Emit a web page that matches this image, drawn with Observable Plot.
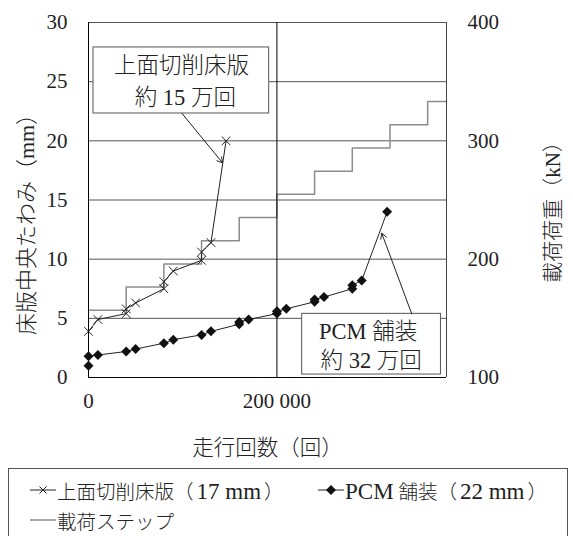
<!DOCTYPE html>
<html>
<head>
<meta charset="utf-8">
<script src="https://cdn.jsdelivr.net/npm/d3@7"></script>
<script src="https://cdn.jsdelivr.net/npm/@observablehq/plot@0.6"></script>
<style>
  html, body { margin: 0; padding: 0; background: #fff; }
  body { width: 573px; height: 536px; overflow: hidden; font-family: "Liberation Serif", "Noto Sans CJK JP", serif; color: #222; }
  #chart svg { display: block; }
  #chart svg text { font-weight: 300; }
  #legend { position: relative; margin-left: 8px; margin-top: 3px; width: 560px; height: 90px; border: 1px solid #555; box-sizing: border-box; }
  .item { position: absolute; height: 30px; display: flex; align-items: center; white-space: nowrap; font-size: 19.5px; font-weight: 300; }
  .lat { font-family: "Liberation Serif", serif; font-size: 23px; font-weight: 400; }
  .lat.pad { margin: 0 3px; }
  .item svg { display: block; }
</style>
</head>
<body>
<div id="chart"></div>
<div id="legend"></div>
<script>
// ---- data ----
const cutCycles = [0, 10000, 40000, 40000, 50000, 80000, 80000, 90000, 120000, 120000, 130000, 146000];
const cutDefl   = [3.9, 4.9, 5.4, 5.8, 6.3, 7.5, 8.1, 9.0, 9.9, 10.6, 11.4, 20.0];

const pcmCycles = [0, 0, 10000, 40000, 50000, 80000, 90000, 120000, 130000, 160000, 160000, 170000,
                   200000, 200000, 210000, 240000, 240000, 250000, 280000, 280000, 290000, 317000];
const pcmDefl   = [1.0, 1.8, 1.9, 2.2, 2.4, 2.9, 3.2, 3.6, 3.9, 4.5, 4.7, 4.9,
                   5.4, 5.6, 5.8, 6.4, 6.6, 6.8, 7.5, 7.8, 8.2, 14.0];

const stepCycles = [0, 40000, 80000, 120000, 160000, 200000, 240000, 280000, 320000, 360000, 380000];
const stepLoad   = [156.8, 176.4, 196.0, 215.6, 235.2, 254.8, 274.4, 294.0, 313.6, 333.2, 333.2];

const yTicks = [0, 5, 10, 15, 20, 25, 30];
const loadTicks = [100, 200, 300, 400];
const xTicks = [0, 200000];

const seriesNames = ["上面切削床版（17 mm）", "PCM 舗装（22 mm）", "載荷ステップ"];
const yLabel = "床版中央たわみ（mm）";
const y2Label = "載荷荷重（kN）";
const xLabel = "走行回数（回）";

// callout annotations (data units)
const boxNames = ["cut", "pcm"];
const boxX1 = [5300, 226800];
const boxX2 = [191800, 374100];
const boxY1 = [22.31, 0.25];
const boxY2 = [27.89, 5.38];
const calloutText = ["上面切削床版", "約 15 万回", "PCM 舗装", "約 32 万回"];
const calloutX = [98600, 102800, 296800, 300000];
const calloutY = [26.37, 23.66, 3.83, 1.44];
const arrowX1 = [99300, 343100];
const arrowY1 = [22.31, 5.38];
const arrowX2 = [142300, 311300];
const arrowY2 = [18.14, 12.19];

// ---- build tables ----
const loadToMm = (kN) => (kN - 100) / 10;   // right axis 100–400 kN ↔ left axis 0–30 mm
const cut = cutCycles.map((c, i) => ({c, d: cutDefl[i]}));
const pcm = pcmCycles.map((c, i) => ({c, d: pcmDefl[i]}));
const steps = stepCycles.map((c, i) => ({c, d: loadToMm(stepLoad[i])}));
const boxes = boxNames.map((n, i) => ({x1: boxX1[i], x2: boxX2[i], y1: boxY1[i], y2: boxY2[i]}));
const callouts = calloutText.map((t, i) => ({t, x: calloutX[i], y: calloutY[i]}));
const arrows = arrowX1.map((x1, i) => ({x1, y1: arrowY1[i], x2: arrowX2[i], y2: arrowY2[i]}));

const FONT = '"Liberation Serif", "Noto Sans CJK JP", serif';

const chart = Plot.plot({
  width: 573,
  height: 465,
  marginLeft: 88,
  marginRight: 127,
  marginTop: 22,
  marginBottom: 88,
  style: {fontFamily: FONT, fontSize: "21px", color: "#222", background: "#fff"},
  x: {domain: [0, 380000]},
  y: {domain: [0, 30]},
  marks: [
    Plot.ruleY(yTicks.slice(1), {stroke: "#555", strokeWidth: 1}),
    Plot.line(steps, {x: "c", y: "d", curve: "step-after", stroke: "#8c8c8c", strokeWidth: 1.5}),
    Plot.ruleX([200000], {stroke: "#000", strokeWidth: 1}),
    Plot.ruleX([380000], {stroke: "#444", strokeWidth: 1}),
    Plot.ruleX([0], {stroke: "#000", strokeWidth: 1}),
    Plot.ruleY([0], {stroke: "#000", strokeWidth: 1}),
    Plot.line(cut, {x: "c", y: "d", stroke: "#222", strokeWidth: 1}),
    Plot.dot(cut, {x: "c", y: "d", symbol: "times", r: 4, stroke: "#222", strokeWidth: 1}),
    Plot.line(pcm, {x: "c", y: "d", stroke: "#222", strokeWidth: 1}),
    Plot.dot(pcm, {x: "c", y: "d", symbol: "diamond2", r: 4.5, fill: "#111", stroke: "none"}),
    Plot.rect(boxes, {x1: "x1", x2: "x2", y1: "y1", y2: "y2", fill: "#fff", stroke: "#555", strokeWidth: 1}),
    Plot.text(callouts, {x: "x", y: "y", text: "t", fontSize: 22.5, fill: "#222", fontFamily: FONT}),
    Plot.arrow(arrows, {x1: "x1", y1: "y1", x2: "x2", y2: "y2", stroke: "#222", strokeWidth: 1, headLength: 9}),
    Plot.axisY(yTicks, {tickSize: 0, tickPadding: 21, label: null, fontSize: 21, fill: "#222", fontFamily: "Liberation Serif"}),
    Plot.axisY(loadTicks.map(loadToMm), {anchor: "right", tickFormat: (d) => String(100 + d * 10), tickSize: 0, tickPadding: 21, label: null, fontSize: 21, fill: "#222", fontFamily: "Liberation Serif"}),
    Plot.axisX(xTicks, {tickFormat: (d) => d3.format(",")(d).replace(/,/g, " "), tickSize: 0, tickPadding: 16, label: null, fontSize: 21, fill: "#222", fontFamily: "Liberation Serif"}),
    Plot.text([xLabel], {frameAnchor: "bottom", dy: 71, lineAnchor: "middle", fontSize: 21.5, fill: "#222", fontFamily: FONT}),
    Plot.text([yLabel], {frameAnchor: "left", textAnchor: "middle", lineAnchor: "middle", dx: -62, dy: 19, rotate: -90, fontSize: 22, fill: "#222", fontFamily: FONT}),
    Plot.text([y2Label], {frameAnchor: "right", textAnchor: "middle", lineAnchor: "middle", dx: 107, dy: 7, rotate: -90, fontSize: 21, fill: "#222", fontFamily: FONT})
  ]
});
document.getElementById("chart").appendChild(chart);

// ---- legend ----
function splitLatin(s) {
  return s
    .replace(/（([^）]*)）/g, '（<span class="lat pad">$1</span>）')
    .replace(/^([A-Za-z]+)/, '<span class="lat">$1</span>');
}
const markerSvg = {
  cut: '<svg width="26" height="14"><line x1="0" y1="7" x2="26" y2="7" stroke="#222" stroke-width="1"/><path d="M9.5,3.5L16.5,10.5M16.5,3.5L9.5,10.5" stroke="#222" stroke-width="1"/></svg>',
  pcm: '<svg width="26" height="14"><line x1="0" y1="7" x2="26" y2="7" stroke="#222" stroke-width="1"/><path d="M13,2L18,7L13,12L8,7Z" fill="#111"/></svg>',
  step: '<svg width="26" height="14"><line x1="0" y1="7" x2="26" y2="7" stroke="#8c8c8c" stroke-width="1.5"/></svg>'
};
const legendKeys = ["cut", "pcm", "step"];
const legendLeft = [21, 309, 21];
const legendTop = [6, 6, 36];
const legend = document.getElementById("legend");
legendKeys.forEach((k, i) => {
  const el = document.createElement("div");
  el.className = "item";
  el.style.left = legendLeft[i] + "px";
  el.style.top = legendTop[i] + "px";
  el.innerHTML = markerSvg[k] + '<span style="margin-left:1px">' + splitLatin(seriesNames[i]) + '</span>';
  legend.appendChild(el);
});
</script>
</body>
</html>
